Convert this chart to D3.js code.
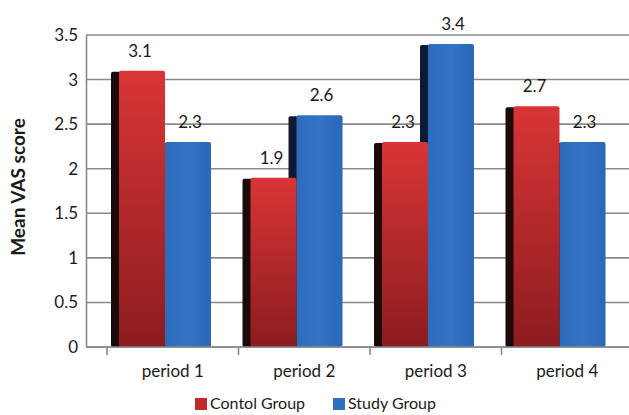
<!DOCTYPE html>
<html>
<head>
<meta charset="utf-8">
<script src="https://cdn.jsdelivr.net/npm/d3@7"></script>
<style>
  html, body { margin: 0; padding: 0; background: #ffffff; }
  svg { display: block; }
  text { font-family: Lato, "Open Sans", sans-serif; fill: #1a1a1a; }
</style>
</head>
<body>
<svg id="chart" width="629" height="415"></svg>
<script>
// Mean VAS score per period, by group
const periods = ["period 1", "period 2", "period 3", "period 4"];
const seriesNames = ["Contol Group", "Study Group"];
const controlValues = [3.1, 1.9, 2.3, 2.7];
const studyValues = [2.3, 2.6, 3.4, 2.3];
const yTicks = [0, 0.5, 1, 1.5, 2, 2.5, 3, 3.5];
const yTitle = "Mean VAS score";

const seriesValues = [controlValues, studyValues];
const rows = periods.map((p, i) => ({
  period: p,
  values: seriesNames.map((s, j) => ({ series: s, value: seriesValues[j][i] }))
}));

const svg = d3.select("#chart");
const W = 629, H = 415;
const axisLeft = 86, plotTop = 35, plotBottom = 347;
const sideW = 8;

const y = d3.scaleLinear().domain([0, 3.5]).range([plotBottom, plotTop]);
const x0 = d3.scaleBand().domain(periods).range([107, 633]).padding(0);
const x1 = d3.scaleBand().domain(seriesNames).range([12, 104]).padding(0);

const defs = svg.append("defs");
const redGrad = defs.append("linearGradient").attr("id", "redFront")
  .attr("x1", 0).attr("y1", 0).attr("x2", 0).attr("y2", 1);
redGrad.append("stop").attr("offset", "0%").attr("stop-color", "#d93536");
redGrad.append("stop").attr("offset", "100%").attr("stop-color", "#8c1c1f");
const blueGrad = defs.append("linearGradient").attr("id", "blueFront")
  .attr("x1", 0).attr("y1", 0).attr("x2", 1).attr("y2", 0);
blueGrad.append("stop").attr("offset", "0%").attr("stop-color", "#2d6cbd");
blueGrad.append("stop").attr("offset", "50%").attr("stop-color", "#3474c4");
blueGrad.append("stop").attr("offset", "100%").attr("stop-color", "#2a67b6");

const fills = { "Contol Group": "url(#redFront)", "Study Group": "url(#blueFront)" };
const sideFills = { "Contol Group": "#1c0a0a", "Study Group": "#0e1a33" };
const legendFills = { "Contol Group": "#c02a2b", "Study Group": "#2f6fc0" };

// horizontal gridlines
svg.append("g").selectAll("line").data(yTicks).join("line")
  .attr("x1", axisLeft).attr("x2", W)
  .attr("y1", d => y(d)).attr("y2", d => y(d))
  .attr("stroke", "#8a8a8a").attr("stroke-width", 1.6);

// y axis
const yAxis = svg.append("g").attr("transform", `translate(${axisLeft},0)`)
  .call(d3.axisLeft(y).tickValues(yTicks).tickSize(0).tickPadding(8).tickFormat(d3.format("")));
yAxis.select(".domain").attr("stroke", "#8a8a8a").attr("stroke-width", 1.6);
yAxis.selectAll("text").style("font-size", "17px").style("font-family", "Lato, 'Open Sans', sans-serif").attr("fill", "#1a1a1a");

// bars: left side strip first, then front face; earlier series drawn on top
const groups = svg.append("g").selectAll("g").data(rows).join("g")
  .attr("transform", d => `translate(${x0(d.period)},0)`);

groups.each(function(row) {
  const g = d3.select(this);
  const ordered = row.values.slice().reverse();
  ordered.forEach(v => {
    const bx = x1(v.series);
    const top = y(v.value);
    g.append("rect")
      .attr("x", bx - sideW).attr("y", top + 1)
      .attr("width", sideW + 2).attr("height", plotBottom - top - 1)
      .attr("rx", 2)
      .attr("fill", sideFills[v.series]);
    g.append("rect")
      .attr("x", bx).attr("y", top)
      .attr("width", x1.bandwidth()).attr("height", plotBottom - top)
      .attr("rx", 2)
      .attr("fill", fills[v.series]);
  });
  // value labels
  row.values.forEach(v => {
    g.append("text")
      .attr("x", x1(v.series) + x1.bandwidth() / 2 - (v.series === "Contol Group" ? 2 : -2))
      .attr("y", y(v.value) - 14)
      .attr("text-anchor", "middle")
      .style("font-size", "17px")
      .text(v.value);
  });
});

// x axis
svg.append("line")
  .attr("x1", axisLeft).attr("x2", W)
  .attr("y1", plotBottom).attr("y2", plotBottom)
  .attr("stroke", "#8a8a8a").attr("stroke-width", 1.6);
svg.append("g").selectAll("line").data(periods).join("line")
  .attr("x1", d => x0(d)).attr("x2", d => x0(d))
  .attr("y1", plotBottom).attr("y2", plotBottom + 8)
  .attr("stroke", "#8a8a8a").attr("stroke-width", 1.6);
svg.append("g").selectAll("text").data(periods).join("text")
  .attr("x", d => x0(d) + x0.bandwidth() / 2)
  .attr("y", 377)
  .attr("text-anchor", "middle")
  .style("font-size", "17px")
  .text(d => d);

// y axis title
svg.append("text")
  .attr("transform", `translate(25,187) rotate(-90)`)
  .attr("text-anchor", "middle")
  .style("font-size", "19px")
  .style("font-weight", "bold")
  .text(yTitle);

// legend
const legendX = [195, 333];
const legend = svg.append("g").selectAll("g").data(seriesNames).join("g")
  .attr("transform", (d, i) => `translate(${legendX[i]},398)`);
legend.append("rect").attr("width", 12).attr("height", 12)
  .attr("fill", d => legendFills[d]);
legend.append("text").attr("x", 15).attr("y", 11)
  .style("font-size", "16px")
  .text(d => d);
</script>
</body>
</html>
